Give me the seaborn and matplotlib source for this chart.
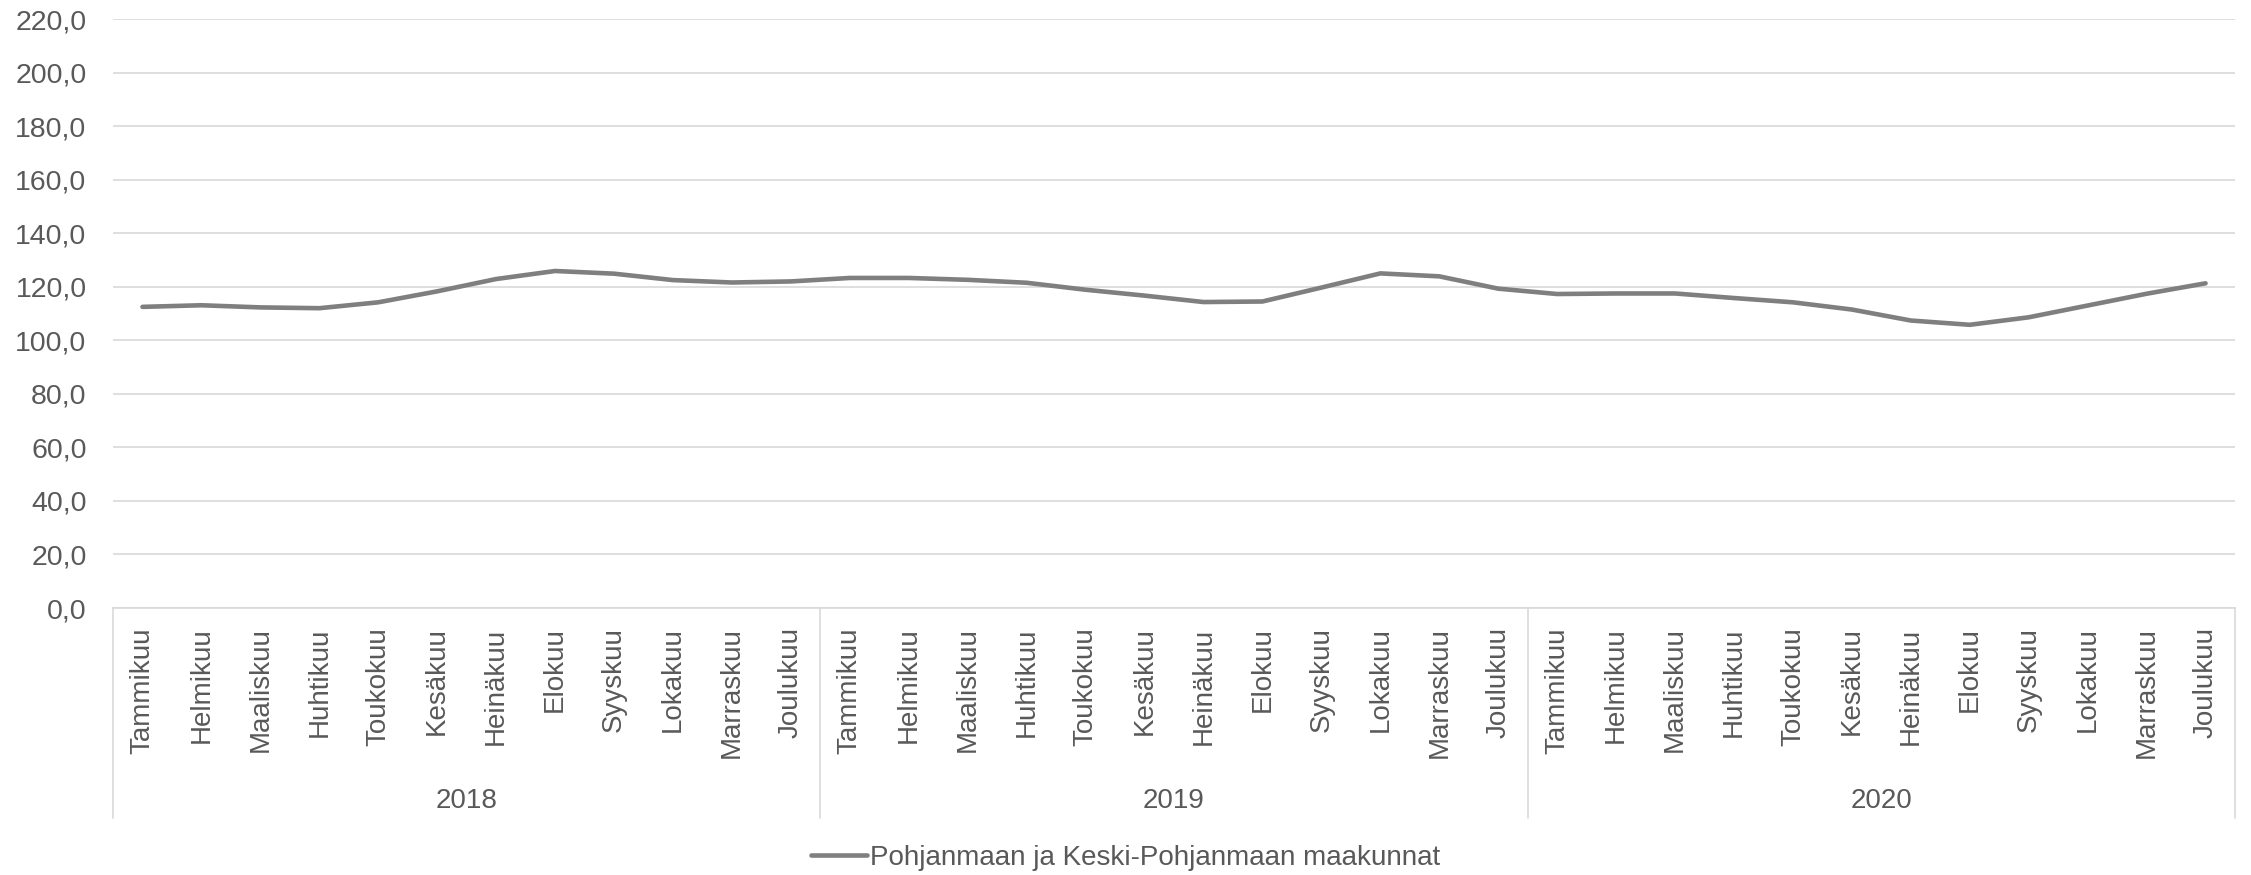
import numpy as np
import pandas as pd
import seaborn as sns
import matplotlib.pyplot as plt
import matplotlib.transforms as mtransforms
from matplotlib.ticker import FuncFormatter

# Data
years = ["2018", "2019", "2020"]
months = ["Tammikuu", "Helmikuu", "Maaliskuu", "Huhtikuu", "Toukokuu", "Kesäkuu",
          "Heinäkuu", "Elokuu", "Syyskuu", "Lokakuu", "Marraskuu", "Joulukuu"]
values_2018 = [112.5, 113.1, 112.3, 112.0, 114.2, 118.3, 122.9, 125.9, 124.9, 122.5, 121.6, 122.0]
values_2019 = [123.3, 123.3, 122.6, 121.5, 118.9, 116.7, 114.3, 114.5, 119.7, 125.0, 123.9, 119.3]
values_2020 = [117.3, 117.5, 117.5, 115.8, 114.2, 111.5, 107.4, 105.8, 108.6, 113.0, 117.4, 121.3]
series_name = "Pohjanmaan ja Keski-Pohjanmaan maakunnat"

df = pd.DataFrame({
    "year": np.repeat(years, len(months)),
    "month": months * len(years),
    "value": values_2018 + values_2019 + values_2020,
})
df["idx"] = np.arange(len(df))
df["series"] = series_name

text_col = "#595959"
grid_col = "#d9d9d9"
line_col = "#7f7f7f"

sns.set_theme(style="white")
plt.rcParams["font.family"] = ["Liberation Sans", "DejaVu Sans"]

fig = plt.figure(figsize=(22.51, 8.75), dpi=100)
ax = fig.add_axes([0.0502, 0.3051, 0.9427, 0.6731])

sns.lineplot(data=df, x="idx", y="value", hue="series", palette=[line_col],
             linewidth=3.3, ax=ax, legend=False)

ax.set_xlim(-0.5, len(df) - 0.5)
ax.set_ylim(0, 220)
ax.set_yticks(np.arange(0, 221, 20))
ax.yaxis.set_major_formatter(FuncFormatter(lambda v, p: f"{v:.1f}".replace(".", ",")))
ax.grid(axis="y", color=grid_col, linewidth=1.2)
ax.grid(axis="x", visible=False)
ax.set_axisbelow(True)

for s in ["top", "right", "left"]:
    ax.spines[s].set_visible(False)
ax.spines["bottom"].set_color(grid_col)
ax.spines["bottom"].set_linewidth(1.2)

ax.set_xticks(df["idx"])
ax.set_xticklabels(df["month"], rotation=90)
ax.tick_params(axis="x", length=0, pad=14, labelsize=20, labelcolor=text_col)
ax.tick_params(axis="y", length=0, pad=19, labelsize=20.5, labelcolor=text_col)
ax.set_xlabel("")
ax.set_ylabel("")

# year group labels and dividers below the axis
trans = mtransforms.blended_transform_factory(ax.transData, ax.transAxes)
n = len(months)
div_bottom = -(818 - 608) / (608 - 19)
for i, yr in enumerate(years):
    center = df.loc[df["year"] == yr, "idx"].mean()
    ax.text(center, -(801 - 608) / (608 - 19), yr, transform=trans,
            ha="center", va="center", fontsize=20, color=text_col)
for b in range(len(years) + 1):
    xb = b * n - 0.5
    ax.plot([xb, xb], [0, div_bottom], transform=trans, color=grid_col,
            linewidth=1.2, clip_on=False)

handle = plt.Line2D([], [], color=line_col, linewidth=3.3)
fig.legend([handle], [series_name], loc="center", bbox_to_anchor=(0.5, 1 - 858 / 875),
           frameon=False, fontsize=20, labelcolor=text_col, handlelength=2.0,
           handletextpad=0.1)

plt.savefig("out.png", dpi=100)
